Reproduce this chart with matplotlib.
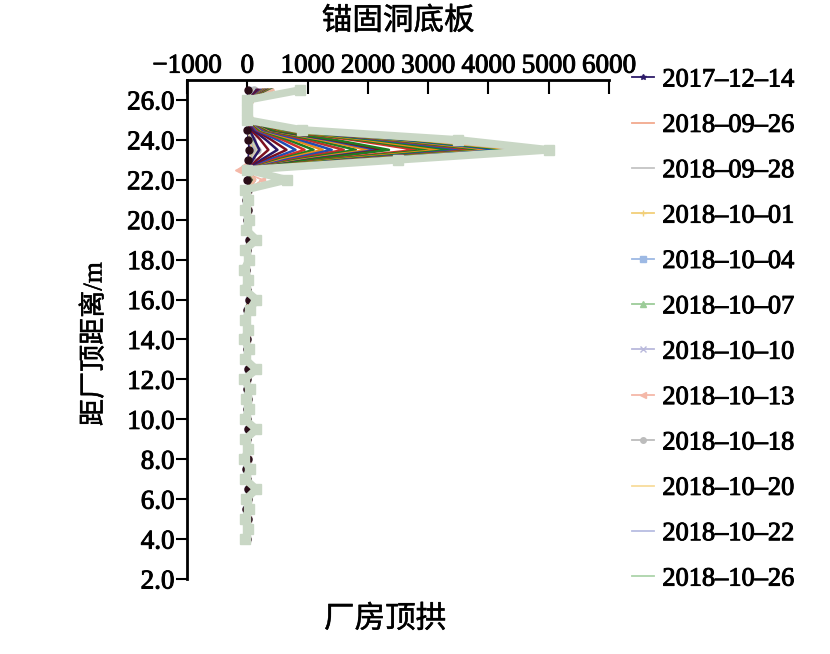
import matplotlib.pyplot as plt
import matplotlib.patheffects as pe

plt.rcParams['font.family'] = ['Liberation Serif', 'Noto Sans CJK SC']
plt.rcParams['font.size'] = 19

# measuring points (distance from powerhouse crown, m)
depths = [4.0, 4.5, 5.0, 5.5, 6.0, 6.5, 7.0, 7.5, 8.0, 8.5, 9.0, 9.5,
          10.0, 10.5, 11.0, 11.5, 12.0, 12.5, 13.0, 13.5, 14.0, 14.5, 15.0, 15.5,
          16.0, 16.5, 17.0, 17.5, 18.0, 18.5, 19.0, 19.5, 20.0, 20.5, 21.0, 21.5,
          22.0, 22.5, 23.0, 23.5, 24.0, 24.5, 25.0, 25.5, 26.0, 26.5]

# readings 4.0 .. 21.5 m (nearly the same for every date)
low_common = [0, -10, 10, -20, 10, 20, 0, -20, 10, -10, 0, 20,
              -10, 0, 20, -10, 0, 20, -20, 0, -10, 10, -20, 0,
              30, -10, 0, -20, 10, -10, 30, 0, -10, 10, -20, 20]
low_last = [-30, 20, -40, 30, -20, 150, -30, 40, -50, 20, -30, 150,
            -40, 30, -20, 40, -50, 150, -30, 30, -50, 20, -30, 40,
            150, -40, 20, -50, 30, -30, 150, -20, 30, -40, 20, -30]

# readings 22.0 .. 26.5 m
legend_dates = ['2017-12-14', '2018-09-26', '2018-09-28', '2018-10-01',
                '2018-10-04', '2018-10-07', '2018-10-10', '2018-10-13',
                '2018-10-18', '2018-10-20', '2018-10-22', '2018-10-26']
legend_upper = [
    [0, 0, 10, 30, 20, 0, 0, 0, 0, 10],
    [20, -20, 30, 80, 40, 10, 0, 0, 10, 40],
    [20, -10, 30, 90, 50, 10, 0, 0, 10, 50],
    [30, 0, 40, 100, 50, 20, 10, 0, 10, 60],
    [30, 0, 50, 120, 60, 20, 10, 0, 10, 70],
    [40, 10, 50, 130, 60, 20, 10, 10, 20, 80],
    [40, 0, 60, 140, 70, 30, 10, 10, 20, 90],
    [250, -150, 60, 150, 70, 30, 10, 10, 20, 100],
    [50, -20, 70, 160, 80, 30, 10, 10, 20, 110],
    [50, 0, 70, 170, 80, 30, 10, 10, 20, 120],
    [60, 0, 80, 180, 90, 30, 20, 10, 20, 130],
    [60, 10, 80, 190, 90, 40, 20, 10, 30, 140],
]
legend_colors = ['#2d1b69', '#f2a98e', '#c4c4c4', '#f2cf78', '#9db9e4', '#9ccc98',
                 '#b9b9dc', '#f4b8a8', '#bcbcbc', '#f8dc9c', '#b8bde2', '#acd4aa']
legend_markers = ['*', None, None, '+', 's', '^', 'x', '<', 'o', None, None, None]

later_upper = [
    [30, 0, 90, 200, 120, 40, 10, 0, 20, 150],
    [35, 10, 160, 350, 220, 60, 15, 5, 25, 170],
    [40, 0, 230, 500, 310, 90, 20, 10, 30, 190],
    [45, 10, 290, 650, 400, 120, 20, 10, 30, 210],
    [50, 0, 360, 800, 500, 140, 25, 15, 35, 230],
    [55, 10, 430, 950, 590, 170, 30, 15, 40, 250],
    [60, 0, 500, 1100, 680, 200, 30, 20, 40, 260],
    [65, 10, 560, 1250, 780, 230, 35, 20, 45, 270],
    [70, 0, 630, 1400, 870, 250, 40, 20, 50, 280],
    [75, 10, 720, 1600, 990, 290, 40, 25, 50, 290],
    [80, 0, 810, 1800, 1120, 320, 45, 25, 55, 300],
    [85, 10, 900, 2000, 1240, 360, 50, 30, 55, 310],
    [90, 0, 970, 2150, 1330, 390, 50, 30, 60, 320],
    [90, 10, 1010, 2250, 1400, 400, 55, 30, 60, 330],
    [95, 0, 1060, 2350, 1460, 420, 55, 35, 65, 340],
    [100, 10, 1260, 2800, 1740, 500, 60, 35, 65, 350],
    [100, 0, 1350, 3000, 1860, 540, 60, 35, 70, 360],
    [105, 10, 1440, 3200, 1980, 580, 65, 40, 70, 370],
    [110, 0, 1530, 3400, 2110, 610, 65, 40, 75, 380],
    [110, 10, 1620, 3600, 2230, 650, 70, 40, 75, 390],
    [115, 0, 1690, 3750, 2330, 680, 70, 45, 80, 395],
    [115, 10, 1760, 3900, 2420, 700, 75, 45, 80, 400],
    [120, 0, 1820, 4050, 2510, 730, 75, 45, 85, 405],
    [120, 10, 1890, 4200, 2600, 760, 80, 50, 85, 410],
    [125, 0, 1960, 4350, 2700, 780, 80, 50, 85, 415],
    [125, 10, 2030, 4500, 2790, 810, 85, 50, 90, 420],
    [130, 0, 2090, 4650, 2880, 840, 85, 50, 90, 425],
    [130, 10, 2160, 4800, 2980, 860, 90, 50, 90, 430],
]
later_colors = ['#2a1766', '#7b1020', '#2a1766', '#7b1020', '#1f4fb4', '#d2312a',
                '#1e7d22', '#ee8a1a', '#1f4fb4', '#c0302a', '#1e7d22', '#ee8a1a',
                '#1f4fb4', '#7b1020', '#1e7d22', '#d2312a', '#1e7d22', '#ee8a1a',
                '#1e7d22', '#1f4fb4', '#c0302a', '#1e7d22', '#ee8a1a', '#1f4fb4',
                '#1e7d22', '#e8a030', '#b8c8e0', '#f0b8a0']

last_upper = [660, 0, 2500, 5000, 3500, 900, 0, 0, 0, 880]

fig = plt.figure(figsize=(8.3, 6.54), dpi=100)
ax = fig.add_axes([187/830, 1 - 579/654, (609 - 187)/830, (579 - 80)/654])

handles = []
for i, d in enumerate(legend_dates):
    h, = ax.plot(low_common + legend_upper[i], depths, color=legend_colors[i],
                 lw=1.3, marker=legend_markers[i], ms=5, label=d.replace('-', '–'),
                 zorder=2)
    handles.append(h)

for vals, c in zip(later_upper, later_colors):
    ax.plot(low_common + vals, depths, color=c, lw=1.8, zorder=2)

# dark markers that peep out beside the last curve
ax.plot(low_common + legend_upper[0], depths, color='#2a0d18', lw=0,
        marker='o', ms=5, zorder=3)
ax.plot(low_last + last_upper, depths, color='#c9d7c5', lw=5.5, marker='s', ms=7.5,
        zorder=4)

ax.set_xlim(-1000, 6000)
ax.set_ylim(2, 27)
ax.set_xticks([-1000, 0, 1000, 2000, 3000, 4000, 5000, 6000])
ax.set_yticks([2, 4, 6, 8, 10, 12, 14, 16, 18, 20, 22, 24, 26])
ax.set_yticklabels(['%.1f' % v for v in ax.get_yticks()])
ax.xaxis.tick_top()
ax.tick_params(axis='x', direction='in', length=10, width=1.5, pad=1, labelsize=19.5)
ax.tick_params(axis='y', direction='out', length=8, width=1.5, pad=1, labelsize=19.5)
ax.spines['right'].set_visible(False)
ax.spines['bottom'].set_visible(False)
ax.spines['left'].set_linewidth(2)
ax.spines['top'].set_linewidth(2)

labels = [fig.text(398/830, 1 - 22/654, '锚固洞底板', ha='center', va='center', fontsize=22),
          fig.text(385/830, 1 - 620/654, '厂房顶拱', ha='center', va='center', fontsize=22),
          fig.text(95/830, 1 - 344/654, '距厂顶距离/m', ha='center', va='center',
                   rotation=90, fontsize=19.5)]

leg = fig.legend(handles=handles, loc='upper left', bbox_to_anchor=(632/830, 1 - 68/654),
                 frameon=False, borderpad=0, borderaxespad=0, handlelength=0.85,
                 handletextpad=0.3, labelspacing=0.83, fontsize=19, markerscale=0.8)

bold = [pe.withStroke(linewidth=0.7, foreground='black')]
for t in ax.get_xticklabels() + ax.get_yticklabels() + leg.get_texts():
    t.set_path_effects(bold)
for t in labels:
    t.set_path_effects([pe.withStroke(linewidth=0.35, foreground='black')])

plt.savefig('out.png', dpi=100)
